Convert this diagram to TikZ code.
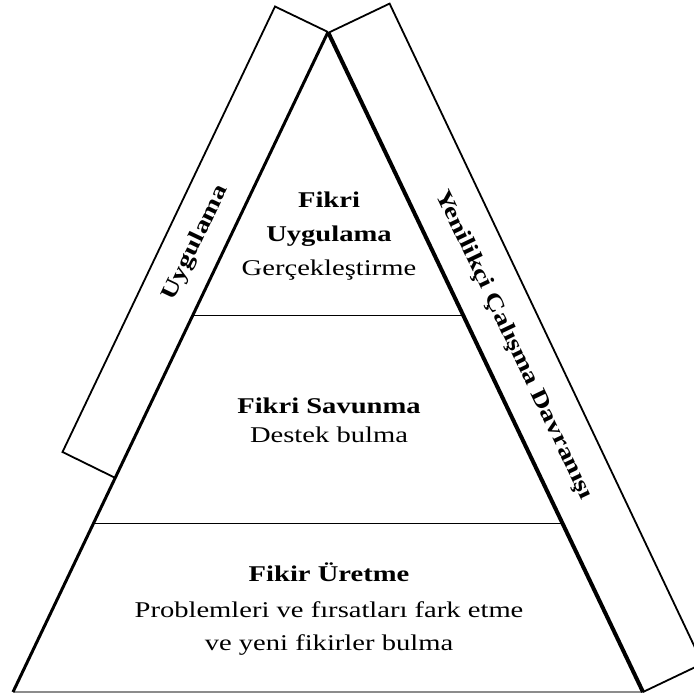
\documentclass[tikz,border=0pt]{standalone}
\usepackage{fontspec}
\setmainfont{Liberation Serif}[FakeStretch=1.27]
\begin{document}
\begin{tikzpicture}[x=1pt,y=-1pt,
  band/.style={draw=black,line width=1.8pt,line join=miter},
  divider/.style={draw=black,line width=0.9pt},
  title/.style={font=\fontsize{22.5}{26}\selectfont\bfseries,anchor=base,inner sep=0pt},
  body/.style={font=\fontsize{22.5}{26}\selectfont,anchor=base,inner sep=0pt},
  sidelabel/.style={font=\fontsize{22.5}{26}\selectfont\bfseries,inner sep=0pt}]
\useasboundingbox (0,0) rectangle (694,693);
\clip (0,0) rectangle (694,693);
% triangle corners
\coordinate (A) at (328,32);
\coordinate (L) at (13,692);
\coordinate (R) at (643,692);
% left band
\coordinate (LT) at (275,6.5);
\coordinate (LO) at (62.5,452);
\coordinate (LI) at (115.5,478);
% right band
\coordinate (RA) at (330,32);
\coordinate (RT) at (389.6,3.6);
\coordinate (RO) at (702.6,663.6);
\coordinate (RI) at (643,692);
% dividers
\coordinate (D1L) at (193,315);
\coordinate (D1R) at (463,315);
\coordinate (D2L) at (94,523);
\coordinate (D2R) at (562,523);

\draw[band] (A) -- (LT) -- (LO) -- (LI);
\draw[band] (RA) -- (RT) -- (RO) -- (RI);
\draw[draw=black!45,line width=1.2pt] (L) -- (R);
\draw[line width=3pt] (A) -- (L);
\draw[line width=4pt] (A) -- (R);
\draw[divider] (D1L) -- (D1R);
\draw[divider] (D2L) -- (D2R);

\node[sidelabel,rotate=64.5] (uyg) at (196,243) {Uygulama};
\node[sidelabel,rotate=-64.5] (yen) at (514,345) {Yenilikçi Çalışma Davranışı};

\node[title] (t1a) at (329,207) {Fikri};
\node[title] (t1b) at (329,241) {Uygulama};
\node[body] (b1) at (329,275) {Gerçekleştirme};
\node[title] (t2) at (329,413) {Fikri Savunma};
\node[body] (b2) at (329,442) {Destek bulma};
\node[title] (t3) at (329,581) {Fikir Üretme};
\node[body] (b3a) at (329,617) {Problemleri ve fırsatları fark etme};
\node[body] (b3b) at (329,650) {ve yeni fikirler bulma};
\end{tikzpicture}
\end{document}
